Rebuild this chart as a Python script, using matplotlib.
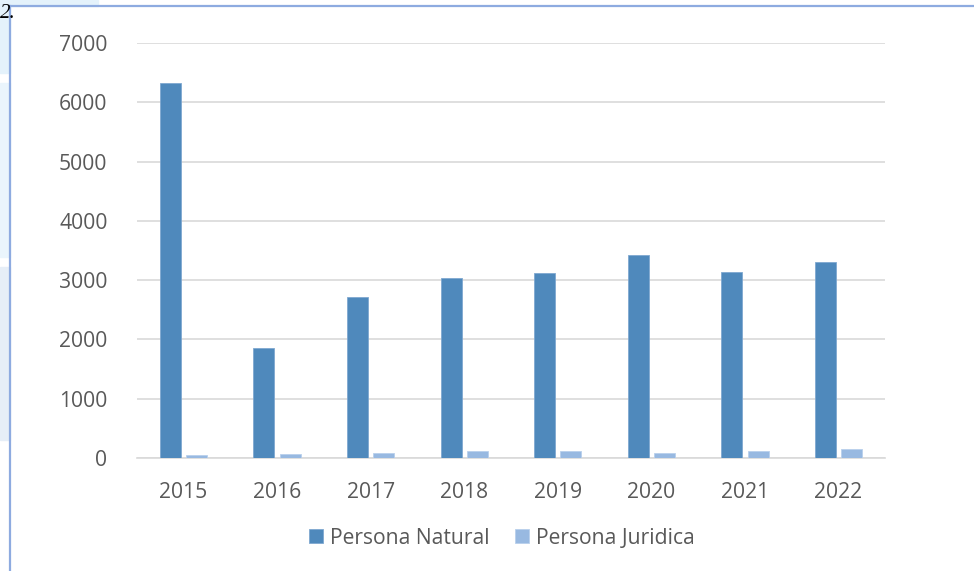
import numpy as np
import matplotlib.pyplot as plt
from matplotlib.patches import Rectangle
from matplotlib.lines import Line2D

years = ['2015', '2016', '2017', '2018', '2019', '2020', '2021', '2022']
natural = [6320, 1855, 2715, 3035, 3115, 3420, 3130, 3305]
juridica = [55, 65, 78, 110, 122, 78, 122, 145]

plt.rcParams['font.family'] = ['Open Sans', 'DejaVu Sans']

fig = plt.figure(figsize=(9.74, 5.71), dpi=100)

# fondo de la pagina (recorte del documento)
fig.patches.append(Rectangle((0, 1 - 73 / 571), 10 / 974, 73 / 571, transform=fig.transFigure,
                             color='#e4f2fb', zorder=0))
fig.patches.append(Rectangle((0, 1 - 6 / 571), 98 / 974, 6 / 571, transform=fig.transFigure,
                             color='#e4f2fb', zorder=0))
fig.patches.append(Rectangle((0, 1 - 257 / 571), 10 / 974, 174 / 571, transform=fig.transFigure,
                             color='#eaf5fc', zorder=0))
fig.patches.append(Rectangle((0, 1 - 440 / 571), 10 / 974, 173 / 571, transform=fig.transFigure,
                             color='#e6eef7', zorder=0))
fig.lines.append(Line2D([9.5 / 974, 1], [1 - 5.7 / 571] * 2, transform=fig.transFigure,
                        color='#8eabe0', lw=1.6))
fig.lines.append(Line2D([9.5 / 974] * 2, [0, 1 - 5.7 / 571], transform=fig.transFigure,
                        color='#8eabe0', lw=1.6))
fig.text(0.0, 1 - 14 / 571, '2.', fontsize=15, family='Liberation Serif', style='italic',
         va='center', ha='left')

ax = fig.add_axes([136.7 / 974, 1 - 458 / 571, 748.6 / 974, 415 / 571])
x = np.arange(len(years))
w = 0.225
off = 0.14
ax.bar(x - off, natural, w, color='#4f89bc', edgecolor='#7fa8d0', linewidth=0.6,
       label='Persona Natural', zorder=3)
ax.bar(x + off, juridica, w, color='#98b9e1', edgecolor='#b9d0ec', linewidth=0.6,
       label='Persona Juridica', zorder=3)

ax.set_xlim(-0.5, len(years) - 0.5)
ax.set_ylim(0, 7000)
ax.set_yticks(np.arange(0, 7001, 1000))
ax.set_xticks(x)
ax.set_xticklabels(years)
ax.grid(axis='y', color='#d9d9d9', linewidth=1.2, zorder=0)
for s in ['top', 'right', 'left']:
    ax.spines[s].set_visible(False)
ax.spines['bottom'].set_color('#d9d9d9')
ax.spines['bottom'].set_linewidth(1.2)
ax.tick_params(axis='both', length=0, labelsize=15.2, labelcolor='#595959')
ax.tick_params(axis='y', pad=21)
ax.tick_params(axis='x', pad=17)

ax.legend(loc='center', bbox_to_anchor=(502 / 974, 1 - 538 / 571), bbox_transform=fig.transFigure,
          ncol=2, frameon=False, fontsize=15.2, labelcolor='#595959', handlelength=0.65,
          handleheight=0.65, handletextpad=0.35, columnspacing=1.2)

plt.savefig('out.png', dpi=100)
